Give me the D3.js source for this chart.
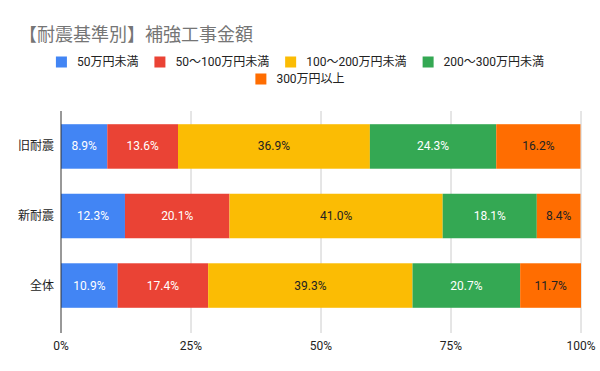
<!DOCTYPE html>
<html>
<head>
<meta charset="utf-8">
<script src="https://cdn.jsdelivr.net/npm/d3@7"></script>
<style>
  body { margin: 0; background: #fff; }
  svg text { font-family: Roboto, "Noto Sans CJK JP", sans-serif; }
</style>
</head>
<body>
<div id="chart"></div>
<script>
// data
const categories = ["旧耐震", "新耐震", "全体"];
const seriesNames = ["50万円未満", "50～100万円未満", "100～200万円未満", "200～300万円未満", "300万円以上"];
const under50 = [8.9, 12.3, 10.9];
const from50to100 = [13.6, 20.1, 17.4];
const from100to200 = [36.9, 41.0, 39.3];
const from200to300 = [24.3, 18.1, 20.7];
const over300 = [16.2, 8.4, 11.7];
const xTicks = [0, 25, 50, 75, 100];

const colors = ["#4285f4", "#ea4335", "#fbbc04", "#34a853", "#ff6d01"];
const labelColors = ["#fff", "#fff", "#222", "#fff", "#222"];

function init() {
    const width = 600;
    const height = 371;
    const left = 61, right = 581;
    const top = 111, bottom = 333;

    const svg = d3.select("#chart")
        .append("svg")
        .attr("width", width)
        .attr("height", height);

    // title
    svg.append("text")
        .attr("x", 19)
        .attr("y", 34)
        .attr("dominant-baseline", "central")
        .attr("font-size", 18)
        .attr("fill", "#757575")
        .text("【耐震基準別】補強工事金額");

    // legend, centered rows
    const legendRows = [[0, 1, 2, 3], [4]];
    const legendY = [62, 79];
    legendRows.forEach((row, ri) => {
        const g = svg.append("g");
        let x = 0;
        row.forEach(i => {
            g.append("rect")
                .attr("x", x).attr("y", legendY[ri] - 5.5)
                .attr("width", 11).attr("height", 11)
                .attr("fill", colors[i]);
            const t = g.append("text")
                .attr("x", x + 21).attr("y", legendY[ri])
                .attr("dominant-baseline", "central")
                .attr("font-size", 12)
                .attr("fill", "#222")
                .text(seriesNames[i]);
            x += 21 + t.node().getComputedTextLength() + 16;
        });
        const w = x - 16;
        g.attr("transform", `translate(${(width - w) / 2},0)`);
    });

    const x = d3.scaleLinear().domain([0, 100]).range([left, right]);
    const y = d3.scaleBand().domain(categories)
        .range([top, 321])
        .paddingInner(0.36)
        .paddingOuter(0.19);

    // gridlines
    svg.append("g").selectAll("line")
        .data(xTicks.filter(d => d > 0))
        .join("line")
        .attr("x1", d => x(d)).attr("x2", d => x(d))
        .attr("y1", top).attr("y2", bottom)
        .attr("stroke", "#ccc").attr("stroke-width", 1);

    // stacked data
    const table = categories.map((c, i) => ({
        cat: c,
        s0: under50[i], s1: from50to100[i], s2: from100to200[i], s3: from200to300[i], s4: over300[i]
    }));
    const keys = ["s0", "s1", "s2", "s3", "s4"];
    const stacked = d3.stack().keys(keys)(table);

    const layers = svg.append("g").selectAll("g")
        .data(stacked)
        .join("g")
        .attr("fill", (d, i) => colors[i]);

    layers.selectAll("rect")
        .data(d => d)
        .join("rect")
        .attr("x", d => x(d[0]))
        .attr("y", d => y(d.data.cat))
        .attr("width", d => x(d[1]) - x(d[0]))
        .attr("height", y.bandwidth());

    layers.each(function(layer, li) {
        d3.select(this).selectAll("text")
            .data(layer)
            .join("text")
            .attr("x", d => (x(d[0]) + x(d[1])) / 2)
            .attr("y", d => y(d.data.cat) + y.bandwidth() / 2)
            .attr("text-anchor", "middle")
            .attr("dominant-baseline", "central")
            .attr("font-size", 12)
            .attr("fill", labelColors[li])
            .text(d => d3.format(".1f")(d[1] - d[0]) + "%");
    });

    // baseline axis
    svg.append("line")
        .attr("x1", left).attr("x2", left)
        .attr("y1", top).attr("y2", bottom)
        .attr("stroke", "#333").attr("stroke-width", 1);

    // category labels
    svg.append("g").selectAll("text")
        .data(categories)
        .join("text")
        .attr("x", 54)
        .attr("y", d => y(d) + y.bandwidth() / 2)
        .attr("text-anchor", "end")
        .attr("dominant-baseline", "central")
        .attr("font-size", 12)
        .attr("fill", "#222")
        .text(d => d);

    // x tick labels
    svg.append("g").selectAll("text")
        .data(xTicks)
        .join("text")
        .attr("x", d => x(d))
        .attr("y", 346)
        .attr("text-anchor", "middle")
        .attr("dominant-baseline", "central")
        .attr("font-size", 12)
        .attr("fill", "#222")
        .text(d => d + "%");
}

window.onload = init;
</script>
</body>
</html>
